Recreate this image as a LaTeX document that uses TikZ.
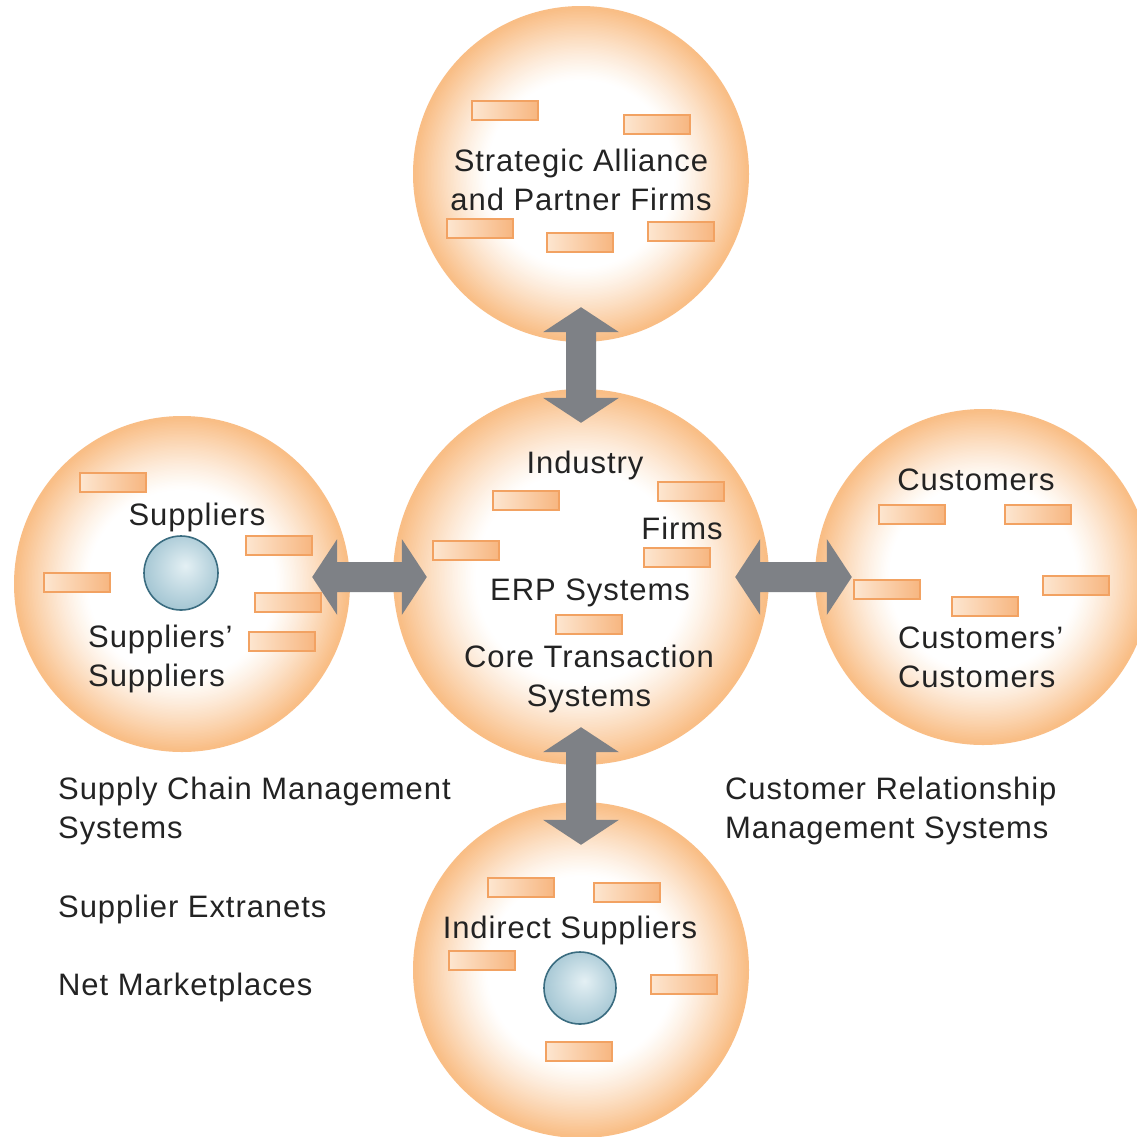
\documentclass[tikz,border=0pt]{standalone}
\usepackage{fontspec}
\setmainfont{Liberation Sans}[LetterSpace=3]
\usetikzlibrary{calc}
\definecolor{peach}{RGB}{249,190,134}
\definecolor{boxlight}{RGB}{253,230,208}
\definecolor{boxdark}{RGB}{247,182,128}
\definecolor{boxedge}{RGB}{242,162,98}
\definecolor{arrowgray}{RGB}{126,129,134}
\definecolor{txt}{RGB}{35,35,35}
\definecolor{ballhi}{RGB}{228,240,244}
\definecolor{ballmid}{RGB}{158,194,208}
\definecolor{balledge}{RGB}{112,158,180}
\definecolor{ballline}{RGB}{58,108,128}
\pgfdeclareradialshading{blueglow}{\pgfpoint{3bp}{5bp}}{color(0bp)=(ballhi); color(30bp)=(ballmid); color(50bp)=(balledge)}
\tikzset{
  bigcirc/.style={circle, inner sep=0pt, minimum size=336pt},
  midcirc/.style={bigcirc, minimum size=376pt},
  ballnode/.style={circle, inner sep=0pt, minimum size=74pt, shade, shading=blueglow, draw=ballline, line width=1.6pt},
  chip/.style={rectangle, inner sep=0pt, minimum width=66pt, minimum height=19pt, left color=boxlight, right color=boxdark, draw=boxedge, line width=1.2pt},
  lbl/.style={inner sep=0pt, text=txt, font=\fontsize{31}{39}\selectfont, anchor=base},
  lblw/.style={lbl, anchor=base west, align=left},
  fatarrow/.style={fill=arrowgray}
}
\newcommand{\glowdisc}[2]{%
  \fill[peach] (#1.center) circle[radius=#2];
  \foreach \k in {0,...,50}{%
    \pgfmathsetmacro{\rr}{#2*(0.99-0.43*\k/50)}%
    \pgfmathsetmacro{\pp}{100*(1-\k/50)^1.2}%
    \fill[peach!\pp!white] (#1.center) circle[radius=\rr];
  }}
\newcommand{\fatvert}[2]{%
  \fill[fatarrow] (#1) -- ($(#1)+(38,25)$) -- ($(#1)+(15,25)$) -- ($(#2)+(15,-25)$) -- ($(#2)+(38,-25)$) -- (#2) -- ($(#2)+(-38,-25)$) -- ($(#2)+(-15,-25)$) -- ($(#1)+(-15,25)$) -- ($(#1)+(-38,25)$) -- cycle;}
\newcommand{\fathorz}[2]{%
  \fill[fatarrow] (#1) -- ($(#1)+(25,-38)$) -- ($(#1)+(25,-15)$) -- ($(#2)+(-25,-15)$) -- ($(#2)+(-25,-38)$) -- (#2) -- ($(#2)+(-25,38)$) -- ($(#2)+(-25,15)$) -- ($(#1)+(25,15)$) -- ($(#1)+(25,38)$) -- cycle;}
\begin{document}
\begin{tikzpicture}[x=1pt,y=-1pt]
\clip (0,0) rectangle (1137,1136);
\fill[white] (0,0) rectangle (1137,1136);
% circles
\node[bigcirc] (top) at (581,174) {};
\node[bigcirc] (left) at (182,584) {};
\node[bigcirc] (right) at (983,577) {};
\node[bigcirc] (bot) at (581,970) {};
\node[midcirc] (mid) at (581,577) {};
\glowdisc{top}{168}
\glowdisc{left}{168}
\glowdisc{right}{168}
\glowdisc{bot}{168}
\glowdisc{mid}{188}
% top circle
\node[chip] (t1) at (505,110.5) {};
\node[chip] (t2) at (657,124.5) {};
\node[chip] (t3) at (480,228.5) {};
\node[chip] (t4) at (580,242.5) {};
\node[chip] (t5) at (681,231.5) {};
\node[lbl, align=center] (tSAP) at (581,210) {Strategic Alliance\\and Partner Firms};
% left circle
\node[chip] (l1) at (113,482.5) {};
\node[chip] (l2) at (279,545.5) {};
\node[chip] (l3) at (77,582.5) {};
\node[chip] (l4) at (288,602.5) {};
\node[chip] (l5) at (282,641.5) {};
\node[ballnode] (lball) at (181,573) {};
\node[lbl] (tSup) at (197,525) {Suppliers};
\node[lblw] (tSS) at (88,686) {Suppliers’\\Suppliers};
% center circle
\node[chip] (m1) at (526,500.5) {};
\node[chip] (m2) at (691,491.5) {};
\node[chip] (m3) at (466,550.5) {};
\node[chip] (m4) at (677,557.5) {};
\node[chip] (m5) at (589,624.5) {};
\node[lbl] (tInd) at (585,473) {Industry};
\node[lbl] (tFirms) at (682,539) {Firms};
\node[lbl] (tERP) at (590,600) {ERP Systems};
\node[lbl, align=center] (tCore) at (589,706) {Core Transaction\\Systems};
% right circle
\node[chip] (r1) at (912,514.5) {};
\node[chip] (r2) at (1038,514.5) {};
\node[chip] (r3) at (887,589.5) {};
\node[chip] (r4) at (985,606.5) {};
\node[chip] (r5) at (1076,585.5) {};
\node[lbl] (tCus) at (976,490) {Customers};
\node[lblw] (tCC) at (898,687) {Customers’\\Customers};
% bottom circle
\node[chip] (b1) at (521,887.5) {};
\node[chip] (b2) at (627,892.5) {};
\node[chip] (b3) at (482,960.5) {};
\node[chip] (b4) at (684,984.5) {};
\node[chip] (b5) at (579,1051.5) {};
\node[ballnode, minimum size=72pt] (bball) at (580,988) {};
\node[lbl] (tIS) at (570,938) {Indirect Suppliers};
% side texts
\node[lblw] (tSCM) at (58,838) {Supply Chain Management\\Systems};
\node[lblw] (tSE) at (58,917) {Supplier Extranets};
\node[lblw] (tNM) at (58,995) {Net Marketplaces};
\node[lblw] (tCRM) at (725,838) {Customer Relationship\\Management Systems};
% arrows
\coordinate (a1) at ([yshift=35pt]top.south);
\coordinate (a2) at ([yshift=-34pt]mid.north);
\coordinate (h1) at ([xshift=-38pt]left.east |- mid.center);
\coordinate (h2) at ([xshift=34pt]mid.west);
\coordinate (k1) at ([xshift=-34pt]mid.east);
\coordinate (k2) at ([xshift=37pt]right.west |- mid.center);
\coordinate (d1) at ([yshift=38pt]mid.south);
\coordinate (d2) at ([yshift=-43pt]bot.north);
\fatvert{a1}{a2}
\fathorz{h1}{h2}
\fathorz{k1}{k2}
\fatvert{d1}{d2}
\end{tikzpicture}
\end{document}
